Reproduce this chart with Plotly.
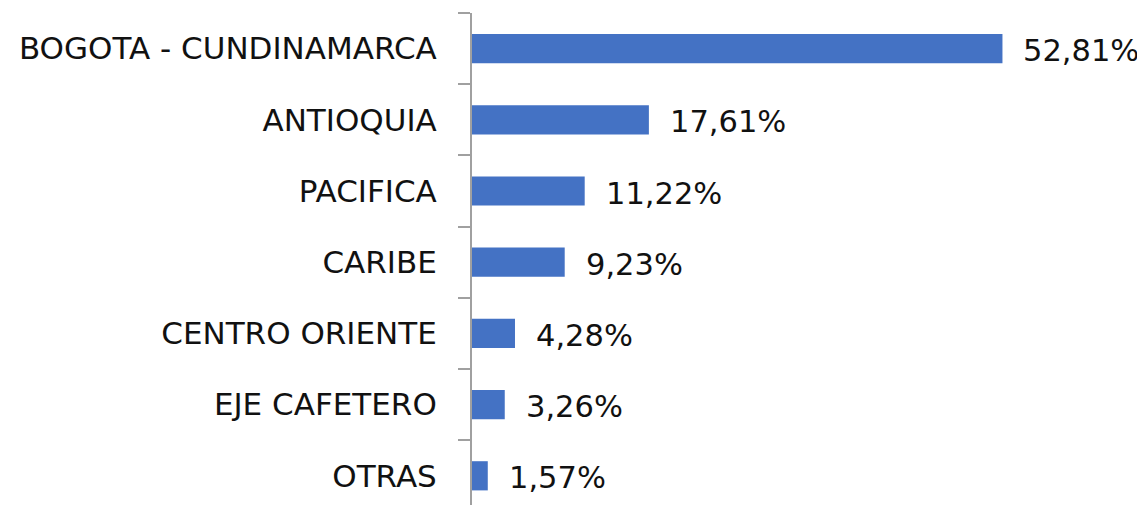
import plotly.graph_objects as go

categories = ["BOGOTA - CUNDINAMARCA", "ANTIOQUIA", "PACIFICA", "CARIBE",
              "CENTRO ORIENTE", "EJE CAFETERO", "OTRAS"]
values = [52.81, 17.61, 11.22, 9.23, 4.28, 3.26, 1.57]
labels = [f"{v:.2f}%".replace(".", ",") for v in values]

FONT = "DejaVu Sans"
fig = go.Figure(go.Bar(
    x=values, y=categories, orientation="h",
    marker=dict(color="#4472C4", line=dict(width=0)),
    width=0.41, hoverinfo="skip",
))

for c, v, t in zip(categories, values, labels):
    fig.add_annotation(x=v, y=c, text=t, showarrow=False, xanchor="left",
                       yanchor="middle", xshift=19, yshift=-2,
                       font=dict(family=FONT, size=30.5, color="#111111"))

fig.update_layout(
    width=1137, height=497,
    margin=dict(l=464, r=0, t=5, b=0),
    paper_bgcolor="white", plot_bgcolor="white",
    showlegend=False,
    xaxis=dict(range=[0, 67.0], visible=False, fixedrange=True),
    yaxis=dict(
        type="category", range=[6.41, -0.5],
        showline=True, linecolor="#A0A0A0", linewidth=2,
        ticks="outside", ticklen=12, tickwidth=2, tickcolor="#A0A0A0",
        tickson="boundaries", showgrid=False, ticklabelstandoff=27,
        tickfont=dict(family=FONT, size=31, color="#111111"),
    ),
)

fig.write_html("out.html")
